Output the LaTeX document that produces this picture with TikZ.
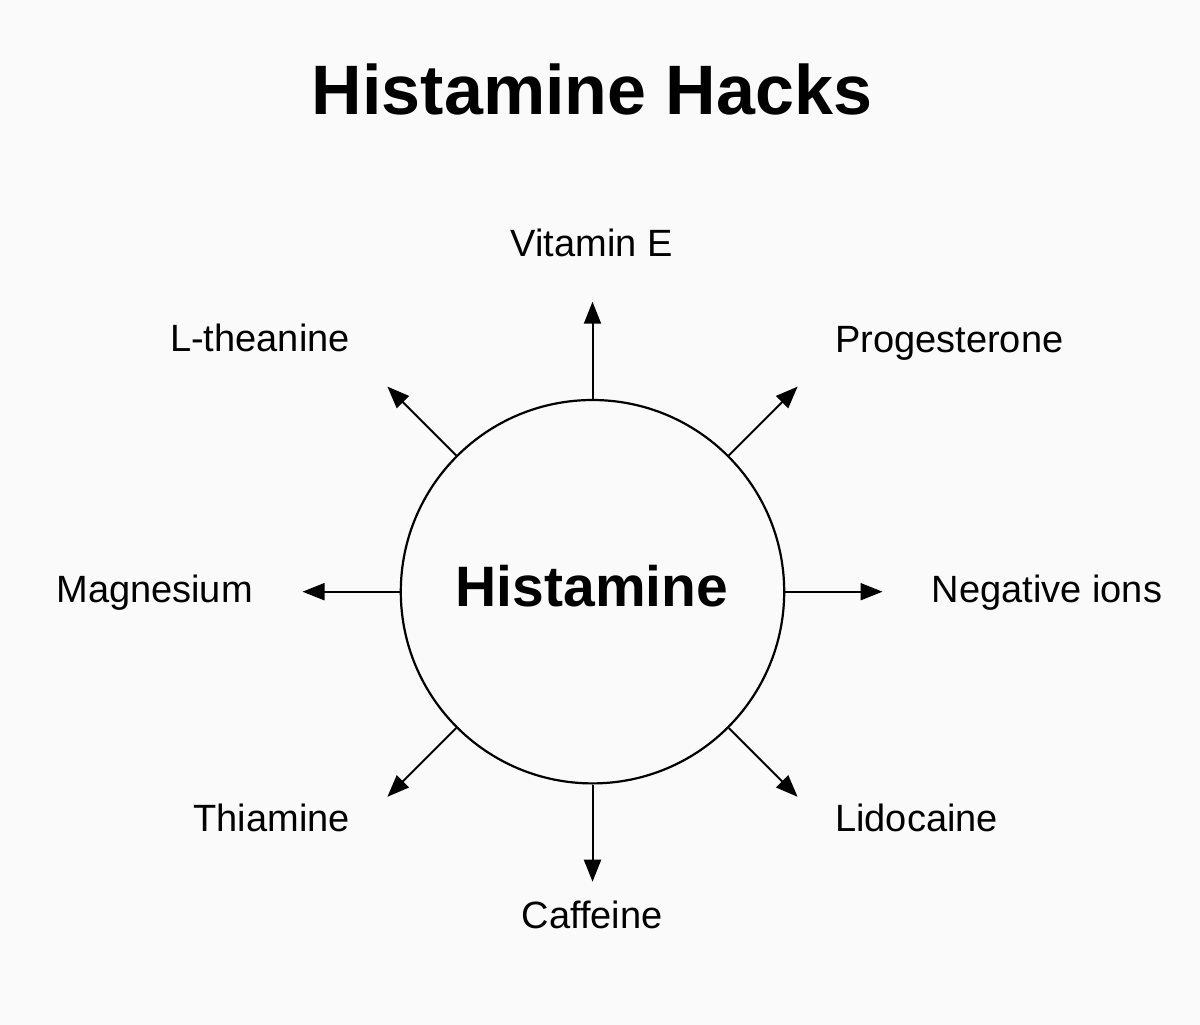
\documentclass[tikz,border=0pt]{standalone}
\usepackage{fontspec}
\setmainfont{Liberation Sans}
\usetikzlibrary{arrows.meta}
\definecolor{bgc}{HTML}{FAFAFA}
\tikzset{
  hack/.style={line width=2pt, -{Triangle[length=22pt,width=17pt]}},
  lbl/.style={inner sep=0pt, font=\fontsize{38}{44}\selectfont},
  ttl/.style={inner sep=0pt, font=\fontsize{70}{80}\selectfont\bfseries},
  ctr/.style={inner sep=0pt, font=\fontsize{57}{64}\selectfont\bfseries},
  hub/.style={circle, draw, line width=2.2pt, minimum size=383.4pt, inner sep=0pt}
}
\begin{document}
\begin{tikzpicture}[x=1pt,y=-1pt]
\fill[bgc] (0,0) rectangle (1200,1025);
\useasboundingbox (0,0) rectangle (1200,1025);
\node[ttl, anchor=base] (title) at (592,114) {Histamine Hacks};
\node[hub] (h) at (592.5,591.7) {};
\node[ctr, anchor=base] (htext) at (592,606.7) {Histamine};
% arrow end points
\coordinate (eN)  at (592.5,301.7);
\coordinate (eNE) at (797.6,386.6);
\coordinate (eE)  at (882.5,591.7);
\coordinate (eSE) at (797.6,796.8);
\coordinate (eS)  at (592.5,881.7);
\coordinate (eSW) at (387.4,796.8);
\coordinate (eW)  at (302.5,591.7);
\coordinate (eNW) at (387.4,386.6);
\draw[hack] (h.90)  -- (eN);
\draw[hack] (h.45)  -- (eNE);
\draw[hack] (h.0)   -- (eE);
\draw[hack] (h.-45) -- (eSE);
\draw[hack] (h.-90) -- (eS);
\draw[hack] (h.-135) -- (eSW);
\draw[hack] (h.180) -- (eW);
\draw[hack] (h.135) -- (eNW);
% labels
\node[lbl, anchor=base] (vitE) at (591.7,256.7) {Vitamin E};
\node[lbl, anchor=base west] (prog) at (835,352.7) {Progesterone};
\node[lbl, anchor=base east] (lthe) at (350,351.7) {L-theanine};
\node[lbl, anchor=base east] (magn) at (253,602.7) {Magnesium};
\node[lbl, anchor=base west] (negi) at (931.7,602.7) {Negative ions};
\node[lbl, anchor=base east] (thia) at (350,831.7) {Thiamine};
\node[lbl, anchor=base west] (lido) at (835,831.7) {Lidocaine};
\node[lbl, anchor=base] (caff) at (592.2,928.3) {Caffeine};
\end{tikzpicture}
\end{document}
